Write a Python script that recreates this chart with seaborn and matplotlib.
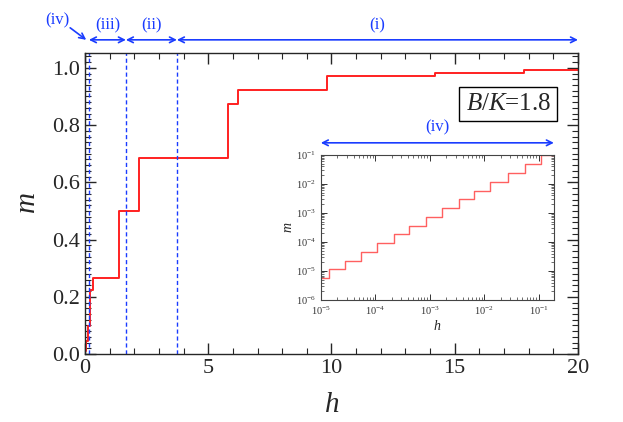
import numpy as np
import pandas as pd
import seaborn as sns
import matplotlib
matplotlib.use("Agg")
import matplotlib.pyplot as plt
from matplotlib.ticker import MultipleLocator, LogLocator, NullFormatter, FormatStrFormatter

sns.set_style("ticks")
plt.rcParams["font.family"] = ["Liberation Serif", "DejaVu Serif"]
plt.rcParams["mathtext.fontset"] = "custom"
plt.rcParams["mathtext.rm"] = "Liberation Serif"
plt.rcParams["mathtext.it"] = "Liberation Serif:italic"

# skoki pri majhnem h (vstavek, log-log)
small_h = [1e-5, 1.4e-5, 2.8e-5, 5.5e-5, 1.07e-4, 2.16e-4, 4.2e-4, 8.6e-4,
           1.68e-3, 3.4e-3, 6.6e-3, 1.3e-2, 2.7e-2, 5.5e-2, 0.112, 0.19]
small_m = [5.6e-6, 1.15e-5, 2.27e-5, 4.5e-5, 9.2e-5, 1.84e-4, 3.66e-4, 7.3e-4,
           1.45e-3, 2.95e-3, 5.9e-3, 1.17e-2, 2.34e-2, 4.7e-2, 0.097, 0.097]

# skoki pri vecjem h (glavni graf)
large_h = [0.21, 0.34, 1.39, 2.2, 5.82, 6.2, 9.8, 14.2, 17.8, 20.0]
large_m = [0.225, 0.265, 0.5, 0.685, 0.875, 0.922, 0.97, 0.981, 0.993, 0.993]

# meje obmocij in oznake
boundaries = [0.16, 1.66, 3.73]
region_labels = ["(iv)", "(iii)", "(ii)", "(i)"]

RED = "#ff2020"
BLUE = "#1a3cff"

main_df = pd.DataFrame({"h": [0.0] + small_h[:-1] + large_h,
                        "m": [0.0] + small_m[:-1] + large_m})
inset_df = pd.DataFrame({"h": small_h, "m": small_m})

fig = plt.figure(figsize=(6.23, 4.22), dpi=100)
ax = fig.add_axes([0.1364, 0.1611, 0.7913, 0.7133])

sns.lineplot(data=main_df, x="h", y="m", ax=ax, color=RED, lw=1.4,
             drawstyle="steps-post", estimator=None, sort=False)
for b in boundaries:
    ax.axvline(b, color=BLUE, ls="--", lw=1.0, dashes=(3, 2))

ax.set_xlim(0, 20)
ax.set_ylim(0, 1.052)
ax.xaxis.set_major_locator(MultipleLocator(5))
ax.xaxis.set_minor_locator(MultipleLocator(1))
ax.yaxis.set_major_locator(MultipleLocator(0.2))
ax.yaxis.set_minor_locator(MultipleLocator(0.02))
ax.yaxis.set_major_formatter(FormatStrFormatter("%.1f"))
ax.tick_params(which="both", direction="in", top=True, right=True, labelsize=16)
ax.tick_params(which="major", length=8, width=1)
ax.tick_params(which="minor", length=4, width=0.8)
ax.set_xlabel("$h$", fontsize=21, labelpad=10)
ax.set_ylabel("$m$", fontsize=21, labelpad=8)
for s in ax.spines.values():
    s.set_linewidth(1.0)

# puscice za obmocja nad grafom
ya, yl = 1.098, 1.15
spans = [(boundaries[0], boundaries[1]), (boundaries[1], boundaries[2]),
         (boundaries[2], 20.0)]
for (x0, x1), lab in zip(spans, region_labels[1:]):
    ax.annotate("", xy=(x1, ya), xytext=(x0, ya), annotation_clip=False,
                arrowprops=dict(arrowstyle="<->", color=BLUE, lw=1.2,
                                shrinkA=0, shrinkB=0, mutation_scale=10))
    ax.text((x0 + x1) / 2, yl, lab, color=BLUE, fontsize=12,
            ha="center", va="center", clip_on=False)
ax.annotate("", xy=(0.05, ya), xytext=(-0.6, 1.14), annotation_clip=False,
            arrowprops=dict(arrowstyle="->", color=BLUE, lw=1.2,
                            shrinkA=0, shrinkB=0, mutation_scale=10))
ax.text(-1.1, 1.165, region_labels[0], color=BLUE, fontsize=12,
        ha="center", va="center", clip_on=False)

ax.text(0.945, 0.83, "$B/K$=1.8", transform=ax.transAxes, fontsize=18,
        ha="right", va="center",
        bbox=dict(boxstyle="square,pad=0.25", fc="white", ec="black", lw=1))

# vstavek
ins = fig.add_axes([0.515, 0.289, 0.374, 0.344])
sns.lineplot(data=inset_df, x="h", y="m", ax=ins, color="#ff6060", lw=1.0,
             drawstyle="steps-post", estimator=None, sort=False)
ins.set_xscale("log")
ins.set_yscale("log")
ins.set_xlim(1e-5, 0.19)
ins.set_ylim(1e-6, 1e-1)
ins.xaxis.set_major_locator(LogLocator(base=10, numticks=10))
ins.xaxis.set_minor_locator(LogLocator(base=10, subs=np.arange(2, 10), numticks=20))
ins.yaxis.set_major_locator(LogLocator(base=10, numticks=10))
ins.yaxis.set_minor_locator(LogLocator(base=10, subs=np.arange(2, 10), numticks=20))
ins.xaxis.set_minor_formatter(NullFormatter())
ins.yaxis.set_minor_formatter(NullFormatter())
ins.tick_params(which="both", direction="in", top=True, right=True,
                labelsize=7.5, colors="#333333")
ins.tick_params(which="major", length=4, width=0.7)
ins.tick_params(which="minor", length=2, width=0.5)
for s in ins.spines.values():
    s.set_linewidth(0.8)
    s.set_color("#444444")
ins.set_xlabel("$h$", fontsize=10, labelpad=1)
ins.set_ylabel("$m$", fontsize=10, labelpad=1)

ins.annotate("", xy=(1.0, 1.083), xytext=(0.0, 1.083), xycoords="axes fraction",
             annotation_clip=False,
             arrowprops=dict(arrowstyle="<->", color=BLUE, lw=1.2,
                             shrinkA=0, shrinkB=0, mutation_scale=10))
ins.text(0.5, 1.19, "(iv)", transform=ins.transAxes, color=BLUE, fontsize=12,
         ha="center", va="center")

fig.savefig("out.png", dpi=100)
